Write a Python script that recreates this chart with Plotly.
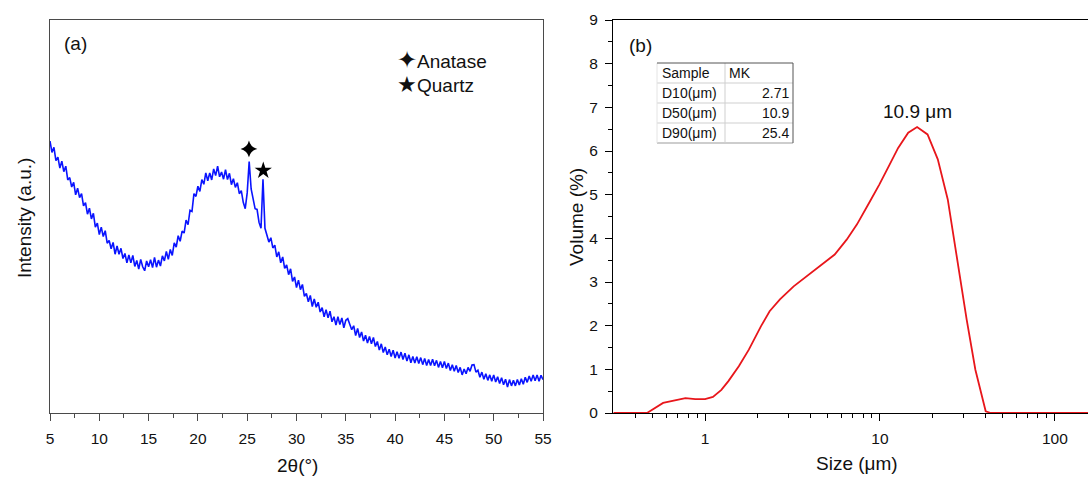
import numpy as np
import plotly.graph_objects as go

# ---------------- data: (a) XRD pattern ----------------
# intensity read every 0.2 deg from 5 to 55 (rows = one degree)
intensity = [
    692, 663, 676, 642, 651,   # 5
    623, 641, 614, 628, 593,   # 6
    599, 575, 587, 555, 572,   # 7
    548, 558, 527, 535, 506,   # 8
    521, 494, 508, 473, 483,   # 9
    454, 473, 449, 464, 432,   # 10
    439, 418, 434, 404, 425,   # 11
    404, 419, 393, 406, 382,   # 12
    402, 382, 401, 373, 388,   # 13
    366, 391, 372, 362, 387,   # 14
    372, 390, 370, 396, 371,   # 15
    389, 374, 400, 387, 411,   # 16
    391, 416, 401, 433, 422,   # 17
    451, 437, 463, 458, 491,   # 18
    479, 516, 513, 558, 551,   # 19
    577, 564, 594, 582, 611,   # 20
    591, 611, 593, 621, 604,   # 21
    628, 601, 613, 595, 619,   # 22
    594, 610, 581, 596, 574,   # 23
    586, 558, 566, 536, 520,   # 24
    560, 640, 570, 540, 520,   # 25
    518, 485, 470, 595, 470,   # 26
    455, 435, 446, 420, 427,   # 27
    397, 410, 382, 397, 368,   # 28
    377, 352, 367, 335, 346,   # 29
    319, 338, 314, 327, 297,   # 30
    304, 283, 299, 271, 290,   # 31
    269, 282, 257, 268, 245,   # 32
    263, 242, 259, 232, 245,   # 33
    224, 245, 225, 242, 217,   # 34
    236, 240, 226, 212, 222,   # 35
    197, 215, 192, 206, 183,   # 36
    198, 178, 195, 176, 192,   # 37
    169, 182, 160, 176, 154,   # 38
    168, 148, 162, 144, 160,   # 39
    140, 156, 139, 155, 136,   # 40
    152, 132, 148, 128, 144,   # 41
    127, 143, 126, 141, 123,   # 42
    139, 121, 136, 121, 137,   # 43
    120, 134, 116, 131, 115,   # 44
    131, 113, 127, 108, 123,   # 45
    106, 121, 103, 116, 97,    # 46
    112, 100, 116, 106, 122,   # 47
    123, 104, 109, 91, 104,    # 48
    86, 100, 83, 97, 81,       # 49
    97, 79, 92, 75, 90,        # 50
    72, 86, 66, 85, 69,        # 51
    83, 69, 85, 71, 87,        # 52
    73, 91, 78, 94, 81,        # 53
    97, 82, 97, 81, 96,        # 54
    85,                        # 55
]
two_theta = np.round(np.linspace(5, 55, len(intensity)), 2)

anatase_pos = [25.18]
anatase_int = [672]
quartz_pos = [26.63]
quartz_int = [617]

xrd_ticks = [5, 10, 15, 20, 25, 30, 35, 40, 45, 50, 55]

# ---------------- data: (b) particle size distribution ----------------
size_um = [0.3, 0.466, 0.576, 0.68, 0.773, 0.88, 1.0, 1.11, 1.24, 1.36, 1.56,
           1.78, 2.09, 2.34, 2.68, 3.21, 4.02, 4.81, 5.51, 6.45, 7.39, 8.66,
           9.91, 11.35, 12.7, 14.5, 16.3, 18.7, 21.4, 24.4, 28.0, 31.3, 35.1,
           40.2, 43.0, 160]
volume = [0, 0, 0.23, 0.30, 0.34, 0.32, 0.32, 0.37, 0.53, 0.73, 1.07,
          1.45, 1.99, 2.33, 2.60, 2.90, 3.21, 3.44, 3.63, 3.97, 4.32, 4.81,
          5.23, 5.69, 6.07, 6.42, 6.55, 6.38, 5.81, 4.89, 3.36, 2.14, 0.99,
          0.04, 0, 0]

size_major_ticks = [1, 10, 100]
size_minor_ticks = [0.4, 0.5, 0.6, 0.7, 0.8, 0.9, 2, 3, 4, 5, 6, 7, 8, 9,
                    20, 30, 40, 50, 60, 70, 80, 90]
volume_ticks = [0, 1, 2, 3, 4, 5, 6, 7, 8, 9]

table_header = ["Sample", "MK"]
table_labels = ["D10(μm)", "D50(μm)", "D90(μm)"]
table_values = ["2.71", "10.9", "25.4"]
peak_label = "10.9 μm"
peak_label_pos = (16.3, 6.9)

# ---------------- layout helpers ----------------
W, H = 1088, 478
def px(x):
    return x / W
def py(y):
    return 1 - y / H

FONT = "Arial, Liberation Sans, sans-serif"
TXT = "#111111"

fig = go.Figure()

fig.add_trace(go.Scatter(x=two_theta, y=intensity, mode="lines",
                         line=dict(color="#0a14ff", width=1.6),
                         xaxis="x", yaxis="y", showlegend=False, hoverinfo="skip"))
fig.add_trace(go.Scatter(x=anatase_pos, y=anatase_int, mode="markers",
                         marker=dict(symbol="star-diamond", size=12, color="black"),
                         xaxis="x", yaxis="y", showlegend=False))
fig.add_trace(go.Scatter(x=quartz_pos, y=quartz_int, mode="markers",
                         marker=dict(symbol="star", size=13, color="black"),
                         xaxis="x", yaxis="y", showlegend=False))

fig.add_trace(go.Scatter(x=size_um, y=volume, mode="lines",
                         line=dict(color="#e8161b", width=1.8),
                         xaxis="x2", yaxis="y2", showlegend=False))

ydom = [py(413), py(20)]
frameA = "#4a4a4a"

fig.update_layout(
    width=W, height=H,
    margin=dict(l=0, r=0, t=0, b=0, pad=0),
    paper_bgcolor="white", plot_bgcolor="white",
    font=dict(family=FONT, color=TXT, size=15),
    xaxis=dict(domain=[px(50), px(543)], range=[5, 55], anchor="y", automargin=False,
               tickmode="array", tickvals=xrd_ticks,
               ticks="outside", ticklen=7, tickwidth=1, tickcolor=frameA,
               minor=dict(dtick=2.5, tick0=5, ticks="outside", ticklen=4,
                          tickcolor=frameA, showgrid=False),
               showline=True, linecolor=frameA, linewidth=1.2, mirror=True,
               showgrid=False, zeroline=False,
               tickfont=dict(size=15.5, color=TXT), ticklabelstandoff=4),
    yaxis=dict(domain=ydom, range=[0, 1000], anchor="x", automargin=False,
               showticklabels=False, ticks="",
               showline=True, linecolor=frameA, linewidth=1.2, mirror=True,
               showgrid=False, zeroline=False),
    xaxis2=dict(domain=[px(613), 1.0], type="log", range=[-0.526, 2.189], anchor="y2",
                automargin=False,
                tickmode="array", tickvals=size_major_ticks,
                ticktext=[str(v) for v in size_major_ticks],
                ticks="outside", ticklen=7, tickwidth=1, tickcolor="black",
                minor=dict(tickmode="array", tickvals=size_minor_ticks,
                           ticks="outside", ticklen=4, tickcolor="black", showgrid=False),
                showline=True, linecolor="black", linewidth=1.2, mirror=True,
                showgrid=False, zeroline=False,
                tickfont=dict(size=15.5, color=TXT), ticklabelstandoff=4),
    yaxis2=dict(domain=ydom, range=[0, 9], anchor="x2", automargin=False,
                tickmode="array", tickvals=volume_ticks,
                ticks="outside", ticklen=7, tickwidth=1, tickcolor="black",
                minor=dict(dtick=0.5, tick0=0, ticks="outside", ticklen=4,
                           tickcolor="black", showgrid=False),
                showline=True, linecolor="black", linewidth=1.2, mirror=True,
                showgrid=False, zeroline=False,
                tickfont=dict(size=15.5, color=TXT), ticklabelstandoff=4),
)

ann = []
def paper_text(text, x, y, size, xanchor="center", yanchor="middle", angle=0):
    ann.append(dict(text=text, x=px(x), y=py(y), xref="paper", yref="paper",
                    showarrow=False, xanchor=xanchor, yanchor=yanchor,
                    textangle=angle, font=dict(family=FONT, size=size, color=TXT)))

# axis titles
paper_text("Intensity (a.u.)", 24, 218, 19, angle=-90)
paper_text("2θ(°)", 297, 465, 19)
paper_text("Volume (%)", 576, 217, 19, angle=-90)
paper_text("Size (μm)", 857, 463, 19)
# panel labels
paper_text("(a)", 62, 43, 19, xanchor="left")
paper_text("(b)", 627, 45, 19, xanchor="left")
# phase legend
paper_text("<span style='font-size:24px'>✦</span>Anatase", 395, 59, 19, xanchor="left")
paper_text("<span style='font-size:22px'>★</span>Quartz", 395, 84, 19, xanchor="left")

# peak label in data coordinates of panel (b)
ann.append(dict(text=peak_label, x=np.log10(peak_label_pos[0]), y=peak_label_pos[1],
                xref="x2", yref="y2", showarrow=False,
                font=dict(family=FONT, size=19, color=TXT)))

# table (b)
tx0, tx1, tdiv = 657, 793, 725
row_edges = [63, 83, 103, 123, 143]
paper_text(table_header[0], tx0 + 3, (row_edges[0] + row_edges[1]) / 2, 14, xanchor="left")
paper_text(table_header[1], tdiv + 2, (row_edges[0] + row_edges[1]) / 2, 14, xanchor="left")
for i, (lab, val) in enumerate(zip(table_labels, table_values)):
    yc = (row_edges[i + 1] + row_edges[i + 2]) / 2
    paper_text(lab, tx0 + 3, yc, 14, xanchor="left")
    paper_text(val, tx1 - 2, yc, 14, xanchor="right")

shapes = []
def pline(x0, y0, x1, y1, color, width=1):
    shapes.append(dict(type="line", xref="paper", yref="paper",
                       x0=px(x0), y0=py(y0), x1=px(x1), y1=py(y1),
                       line=dict(color=color, width=width)))

light = "#cfcfcf"
for yy in row_edges[1:-1]:
    pline(tx0, yy, tx1, yy, light)
pline(tx0, row_edges[-1], tx1, row_edges[-1], "#bdbdbd", 1.5)
pline(tdiv, row_edges[0], tdiv, row_edges[-1], light)
pline(tx0, row_edges[0], tx0, row_edges[-1], "#e4e4e4")
pline(tx0, row_edges[0], tx1, row_edges[0], "#555555")
pline(tx1, row_edges[0], tx1, row_edges[-1], "#555555")

fig.update_layout(annotations=ann, shapes=shapes)

fig.write_html("out.html")
